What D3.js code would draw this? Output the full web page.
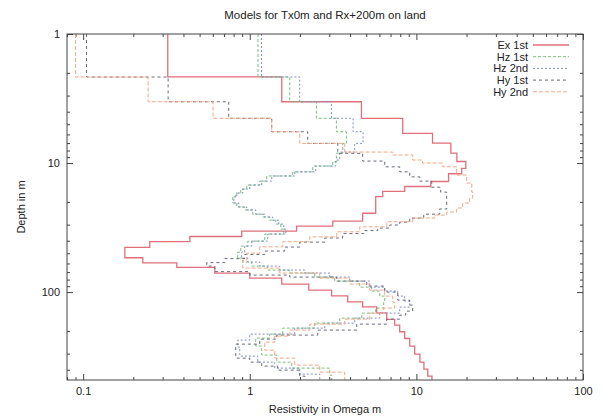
<!DOCTYPE html>
<html>
<head>
<meta charset="utf-8">
<script src="https://cdn.jsdelivr.net/npm/d3@7"></script>
<style>
	body { margin: 0; background: #fff; }
	text { font-family: 'Liberation Sans', Arial, Helvetica, sans-serif; fill: #222; }
</style>
</head>
<body>
<div id="chart"></div>
<script>
// layer models: resistivity of each layer and depth of its lower boundary (top starts at 1 m)
var seriesNames = [ 'Ex 1st', 'Hz 1st', 'Hz 2nd', 'Hy 1st', 'Hy 2nd' ];

var exRho = [ 0.322, 1.556, 4.68, 8.28, 12.5, 16.1, 17.5, 19.8, 18.7, 15.6, 12.2, 8.51, 6.28, 5.70, 4.76, 3.15, 1.91, 0.895, 0.437, 0.251, 0.178, 0.228, 0.365, 0.617, 1.0, 1.556, 2.26, 3.10, 3.87, 4.76, 5.78, 6.64, 7.41, 7.94, 8.51, 9.12, 9.77, 10.5, 11.1, 11.7, 12.4 ];
var exDepth = [ 2.15, 3.35, 4.50, 5.89, 7.0, 8.37, 9.73, 11.0, 12.1, 13.9, 15.2, 16.6, 18.2, 24.5, 28.2, 30.8, 33.7, 37.1, 40.6, 45.0, 54.2, 59.3, 64.4, 71.3, 77.9, 86.7, 96.5, 107, 119, 130, 145, 163, 180, 203, 229, 262, 303, 349, 395, 448, 500 ];

var hz1Rho = [ 1.121, 1.738, 2.512, 3.311, 3.802, 3.614, 3.311, 3.148, 2.388, 1.811, 1.264, 1.148, 0.959, 0.883, 0.824, 0.791, 0.836, 0.933, 1.042, 1.197, 1.318, 1.432, 1.535, 1.600, 1.230, 0.973, 0.883, 0.847, 0.908, 1.028, 1.282, 1.738, 2.455, 3.236, 4.571, 5.395, 6.026, 6.457, 6.368, 5.702, 4.70, 3.467, 2.455, 1.578, 1.318, 1.086, 1.180, 1.452, 1.787, 3.020, 3.104 ];
var hz1Depth = [ 2.154, 3.35, 4.50, 5.72, 7.04, 8.37, 9.77, 10.55, 11.7, 12.6, 13.8, 14.8, 15.9, 17.1, 18.3, 20.4, 21.9, 23.1, 24.9, 26.2, 27.7, 29.7, 32.5, 35.5, 40.3, 44.0, 49.0, 54.5, 58.5, 62.9, 67.5, 71.2, 76.5, 82.2, 91.5, 98.2, 107.4, 119.6, 133, 145.5, 159.1, 173.9, 190.2, 211.7, 227.3, 262.1, 307.8, 348.9, 388.3, 440.1, 500 ];

var hz2Rho = [ 1.175, 1.995, 3.090, 4.168, 4.786, 4.266, 3.467, 3.281, 2.489, 1.862, 1.355, 1.180, 1.0, 0.908, 0.836, 0.802, 0.859, 0.959, 1.086, 1.230, 1.374, 1.493, 1.600, 1.644, 1.282, 1.028, 0.933, 0.895, 0.973, 1.148, 1.513, 2.138, 3.020, 3.981, 5.248, 6.457, 7.727, 8.511, 9.120, 7.943, 6.026, 4.266, 2.818, 1.862, 1.0, 0.847, 0.871, 1.117, 1.413, 1.995, 2.630 ];
var hz2Depth = [ 2.154, 3.35, 4.50, 5.72, 7.04, 8.22, 9.48, 10.55, 11.7, 12.6, 13.8, 14.8, 15.9, 17.1, 18.3, 20.4, 21.9, 23.1, 24.9, 26.2, 27.7, 29.7, 32.5, 35.5, 40.3, 44.0, 49.0, 54.5, 58.5, 62.9, 67.5, 71.2, 76.5, 82.2, 91.5, 98.2, 107.4, 117.4, 130.7, 145.5, 159.1, 173.9, 190.2, 211.7, 235.6, 266.9, 313.4, 348.9, 388.3, 432.3, 500 ];

var hy1Rho = [ 0.1048, 0.3236, 0.748, 1.355, 2.228, 3.373, 4.76, 6.46, 7.94, 9.12, 10.47, 12.36, 13.99, 15.2, 13.8, 11.07, 9.12, 7.94, 6.92, 5.86, 4.83, 3.61, 2.82, 1.995, 1.62, 1.23, 0.933, 0.708, 0.552, 0.617, 1.0, 1.738, 3.327, 5.035, 6.457, 7.727, 9.120, 9.506, 8.630, 7.943, 6.637, 4.385, 2.559, 1.452, 1.148, 0.824, 1.0, 1.180, 1.472, 1.995, 2.138 ];
var hy1Depth = [ 2.154, 3.35, 4.50, 5.72, 7.04, 8.41, 9.65, 10.7, 11.7, 12.8, 13.8, 15.4, 16.8, 22.7, 24.9, 26.7, 28.7, 30.2, 31.9, 33.4, 35.2, 38.1, 41.0, 44.8, 48.1, 51.2, 55.0, 59.1, 62.9, 69.4, 73.8, 76.5, 82.2, 89.8, 100, 115.4, 126.1, 140.4, 150.8, 162.0, 177.1, 197.0, 215.4, 231.4, 253.0, 324.9, 348.9, 374.7, 402.5, 448.0, 500 ];

var hy2Rho = [ 0.0901, 0.2454, 0.602, 1.355, 1.995, 3.715, 7.21, 9.51, 10.9, 14.4, 17.46, 20.04, 21.5, 21.78, 20.9, 18.96, 17.46, 15.2, 12.88, 9.51, 6.64, 4.57, 3.33, 2.29, 1.58, 1.148, 0.959, 0.908, 1.513, 2.630, 3.981, 5.248, 6.457, 7.211, 7.413, 6.368, 5.248, 3.715, 2.291, 1.738, 1.413, 1.230, 1.413, 1.862, 2.630, 3.715 ];
var hy2Depth = [ 2.154, 3.35, 4.50, 5.72, 7.04, 8.22, 8.67, 9.48, 10.0, 10.7, 12.4, 14.3, 16.8, 18.7, 20.4, 22.3, 24.0, 25.3, 26.7, 28.5, 31.2, 34.1, 37.3, 40.7, 44.6, 49.9, 56.5, 65.2, 71.2, 77.9, 86.7, 96.5, 107.4, 119.6, 133, 145.5, 162.0, 177.1, 197.0, 219.3, 244.2, 281.6, 324.9, 368.0, 417.1, 500 ];

var xMajorTicks = [ 0.1, 1, 10, 100 ];
var yMajorTicks = [ 1, 10, 100 ];

// ----------------------------------------------------------------
var W = 604, H = 419;
var plotLeft = 67, plotRight = 583, plotTop = 34, plotBottom = 380;

var svg = d3.select( '#chart' ).append( 'svg' )
	.attr( 'width', W )
	.attr( 'height', H );

var xScale = d3.scaleLog().domain( [ 0.08, 100 ] ).range( [ plotLeft, plotRight ] );
var yScale = d3.scaleLog().domain( [ 1, 480 ] ).range( [ plotTop, plotBottom ] );

function minorTicks( lo, hi ) {
	var out = [];
	for ( var e = -2; e <= 3; e++ ) {
		for ( var m = 2; m <= 9; m++ ) {
			var v = m * Math.pow( 10, e );
			if ( v >= lo && v <= hi ) out.push( v );
		}
	}
	return out;
}
var xMinor = minorTicks( 0.08, 100 );
var yMinor = minorTicks( 1, 480 );

// ticks on all four sides, pointing inward
function addAxis( axisFn, scale, vals, size, tx, ty, labels ) {
	var ax = axisFn( scale )
		.tickValues( vals )
		.tickSize( size )
		.tickPadding( 7 )
		.tickFormat( labels ? d3.format( '~g' ) : '' );
	var g = svg.append( 'g' )
		.attr( 'transform', 'translate(' + tx + ',' + ty + ')' )
		.call( ax );
	g.select( '.domain' ).remove();
	g.selectAll( 'line' ).attr( 'stroke', '#444' );
	g.selectAll( 'text' )
		.attr( 'font-size', '11px' )
		.attr( 'font-family', "'Liberation Sans', Arial, sans-serif" )
		.attr( 'fill', '#222' );
	return g;
}

addAxis( d3.axisBottom, xScale, xMajorTicks, -6, 0, plotBottom, true );
addAxis( d3.axisBottom, xScale, xMinor, -3, 0, plotBottom, false );
addAxis( d3.axisTop, xScale, xMajorTicks, -6, 0, plotTop, false );
addAxis( d3.axisTop, xScale, xMinor, -3, 0, plotTop, false );
addAxis( d3.axisLeft, yScale, yMajorTicks, -6, plotLeft, 0, true );
addAxis( d3.axisLeft, yScale, yMinor, -3, plotLeft, 0, false );
addAxis( d3.axisRight, yScale, yMajorTicks, -6, plotRight, 0, false );
addAxis( d3.axisRight, yScale, yMinor, -3, plotRight, 0, false );

// clip for the curves
svg.append( 'clipPath' ).attr( 'id', 'plotclip' )
	.append( 'rect' )
	.attr( 'x', plotLeft ).attr( 'y', plotTop )
	.attr( 'width', plotRight - plotLeft ).attr( 'height', plotBottom - plotTop );

function stepPoints( rho, depth ) {
	var pts = [], d0 = 1;
	for ( var i = 0; i < rho.length; i++ ) {
		pts.push( [ rho[ i ], d0 ] );
		pts.push( [ rho[ i ], depth[ i ] ] );
		d0 = depth[ i ];
	}
	return pts;
}

var line = d3.line()
	.x( function( d ) { return xScale( d[ 0 ] ); } )
	.y( function( d ) { return yScale( d[ 1 ] ); } );

var series = [
	{ name: seriesNames[ 0 ], rho: exRho, depth: exDepth, color: '#e0707c', dash: null, width: 1.3 },
	{ name: seriesNames[ 1 ], rho: hz1Rho, depth: hz1Depth, color: '#7cbc7c', dash: '3,2', width: 1 },
	{ name: seriesNames[ 2 ], rho: hz2Rho, depth: hz2Depth, color: '#7f8fbf', dash: '2,2', width: 1 },
	{ name: seriesNames[ 3 ], rho: hy1Rho, depth: hy1Depth, color: '#666a78', dash: '3,3', width: 1 },
	{ name: seriesNames[ 4 ], rho: hy2Rho, depth: hy2Depth, color: '#f0a888', dash: '4,2', width: 1 }
];

var curves = svg.append( 'g' ).attr( 'clip-path', 'url(#plotclip)' );
series.forEach( function( s ) {
	curves.append( 'path' )
		.attr( 'd', line( stepPoints( s.rho, s.depth ) ) )
		.attr( 'fill', 'none' )
		.attr( 'stroke', s.color )
		.attr( 'stroke-width', s.width )
		.attr( 'stroke-dasharray', s.dash );
} );

// border
svg.append( 'rect' )
	.attr( 'x', plotLeft ).attr( 'y', plotTop )
	.attr( 'width', plotRight - plotLeft ).attr( 'height', plotBottom - plotTop )
	.attr( 'fill', 'none' )
	.attr( 'stroke', '#444' )
	.attr( 'stroke-width', 1 );

// legend
var legend = svg.append( 'g' );
series.forEach( function( s, i ) {
	var ly = 45 + i * 11.7;
	legend.append( 'text' )
		.attr( 'x', 528 ).attr( 'y', ly + 4 )
		.attr( 'text-anchor', 'end' )
		.attr( 'font-size', '11px' )
		.text( s.name );
	legend.append( 'line' )
		.attr( 'x1', 533 ).attr( 'x2', 569 )
		.attr( 'y1', ly ).attr( 'y2', ly )
		.attr( 'stroke', s.color )
		.attr( 'stroke-width', s.width )
		.attr( 'stroke-dasharray', s.dash );
} );

// titles
svg.append( 'text' )
	.attr( 'x', 325 ).attr( 'y', 19 )
	.attr( 'text-anchor', 'middle' )
	.attr( 'font-size', '11.5px' )
	.text( 'Models for Tx0m and Rx+200m on land' );

svg.append( 'text' )
	.attr( 'x', 325 ).attr( 'y', 413 )
	.attr( 'text-anchor', 'middle' )
	.attr( 'font-size', '11px' )
	.text( 'Resistivity in Omega m' );

svg.append( 'text' )
	.attr( 'transform', 'translate(25,207) rotate(-90)' )
	.attr( 'text-anchor', 'middle' )
	.attr( 'font-size', '11px' )
	.text( 'Depth in m' );
</script>
</body>
</html>
